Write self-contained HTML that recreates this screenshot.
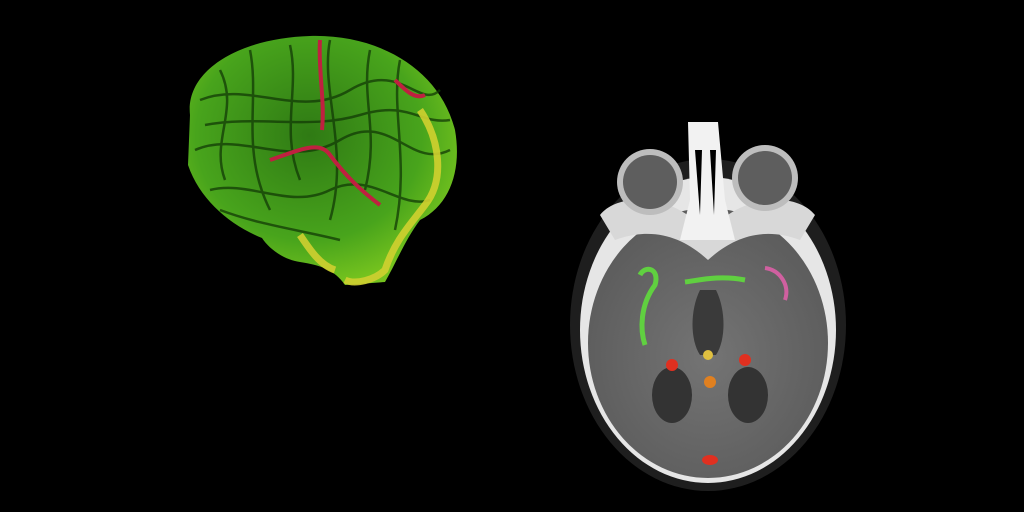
<!DOCTYPE html>
<html><head><meta charset="utf-8"><style>
html,body{margin:0;padding:0;background:#000;width:1024px;height:512px;overflow:hidden}
svg{display:block}
</style></head><body>
<svg width="1024" height="512" viewBox="0 0 1024 512">
<defs>
<radialGradient id="ctg" cx="50%" cy="55%" r="55%">
<stop offset="0%" stop-color="#747474"/><stop offset="100%" stop-color="#5c5c5c"/>
</radialGradient>
<radialGradient id="brg" cx="45%" cy="40%" r="60%">
<stop offset="0%" stop-color="#2f7a14"/><stop offset="70%" stop-color="#48a41c"/><stop offset="100%" stop-color="#74c21e"/>
</radialGradient>
</defs>
<g>
<path d="M190,115 C185,70 240,38 310,36 C380,34 440,70 455,130 C462,170 450,205 420,220 C405,240 395,265 385,282 L345,285 C335,270 320,265 300,262 C285,260 270,250 262,238 C230,225 200,200 188,165 Z" fill="url(#brg)"/>
<g stroke="#123a06" stroke-width="2.5" fill="none" opacity="0.75">
<path d="M200,100 C250,80 300,120 350,90 S420,110 440,90"/>
<path d="M195,150 C240,130 290,170 340,140 S410,170 450,150"/>
<path d="M210,190 C250,180 290,210 330,190 S400,210 430,200"/>
<path d="M250,50 C260,100 240,150 270,210"/>
<path d="M330,40 C320,90 350,150 330,220"/>
<path d="M400,60 C390,110 410,160 395,230"/>
<path d="M220,70 C240,110 210,140 225,180"/>
<path d="M290,45 C300,90 280,130 300,180"/>
<path d="M370,50 C360,100 380,130 365,190"/>
<path d="M205,125 C260,115 310,130 360,115 S420,125 450,120"/>
<path d="M220,210 C260,225 300,230 340,240"/>
</g>
<g stroke="#c02040" stroke-width="4" fill="none">
<path d="M270,160 C300,150 320,140 330,155 C345,175 360,190 380,205"/>
<path d="M320,40 C318,70 325,100 322,130"/>
<path d="M395,80 C405,90 415,100 425,95"/>
</g>
<g stroke="#d0d030" stroke-width="7" fill="none" opacity="0.9">
<path d="M420,110 C440,140 445,180 425,205 C410,225 395,240 385,270 C375,280 355,285 345,280"/>
<path d="M300,235 C310,250 320,265 335,270"/>
</g>
</g>
<g>
<ellipse cx="708" cy="325" rx="138" ry="166" fill="#1e1e1e"/>
<ellipse cx="708" cy="330" rx="128" ry="153" fill="#e6e6e6"/>
<ellipse cx="708" cy="343" rx="120" ry="135" fill="url(#ctg)"/>
<path d="M600,215 C620,190 680,195 708,235 C735,195 795,190 815,215 L800,240 C760,225 730,240 708,260 C686,240 656,225 615,240 Z" fill="#d8d8d8"/>
<circle cx="650" cy="182" r="33" fill="#bdbdbd"/><circle cx="650" cy="182" r="27" fill="#5e5e5e"/>
<circle cx="765" cy="178" r="33" fill="#bdbdbd"/><circle cx="765" cy="178" r="27" fill="#5e5e5e"/>
<path d="M688,122 L718,122 L725,200 L735,240 L680,240 L690,200 Z" fill="#f2f2f2"/>
<path d="M695,150 L702,150 L700,215 Z M710,150 L716,150 L714,215 Z" fill="#000"/>
<path d="M700,290 C690,310 690,340 700,355 L716,355 C726,340 726,310 716,290 Z" fill="#3a3a3a"/>
<ellipse cx="672" cy="395" rx="20" ry="28" fill="#333"/>
<ellipse cx="748" cy="395" rx="20" ry="28" fill="#333"/>
<g stroke="#60d040" stroke-width="5" fill="none">
<path d="M640,275 C645,265 660,268 655,285 C640,305 640,330 645,345"/>
<path d="M685,282 C700,280 720,275 745,280"/>
</g>
<g stroke="#d060a0" stroke-width="4" fill="none"><path d="M765,268 C780,270 790,285 785,300"/></g>
<circle cx="672" cy="365" r="6" fill="#e03020"/>
<circle cx="745" cy="360" r="6" fill="#e03020"/>
<circle cx="710" cy="382" r="6" fill="#e08020"/>
<circle cx="708" cy="355" r="5" fill="#e0c040"/>
<ellipse cx="710" cy="460" rx="8" ry="5" fill="#e03020"/>
</g>
</svg>
</body></html>
